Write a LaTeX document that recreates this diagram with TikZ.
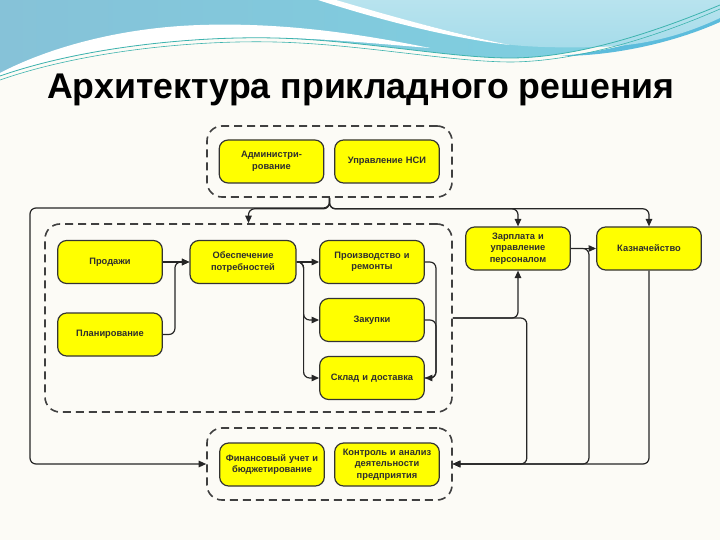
\documentclass[tikz,border=0pt]{standalone}
\usepackage{fontspec}
\setmainfont{Liberation Sans}
\usepackage{xcolor}
\usetikzlibrary{arrows.meta}
\definecolor{bgcream}{HTML}{FCFBF6}
\definecolor{waveL}{HTML}{86C2D8}
\definecolor{waveM}{HTML}{7CD2E2}
\definecolor{waveR}{HTML}{A6DCEA}
\definecolor{waveD}{HTML}{5CBCDC}
\definecolor{waveLine}{HTML}{3DB3AE}
\definecolor{boxfill}{HTML}{FFFF00}
\definecolor{boxline}{HTML}{333333}
\definecolor{grpline}{HTML}{404040}

\begin{document}
\begin{tikzpicture}[x=1pt, y=-1pt,
  block/.style={draw=boxline, line width=1.2pt, fill=boxfill, rounded corners=9pt,
    minimum width=101pt, minimum height=43pt, text width=98pt, align=center,
    font=\fontsize{9.3}{11.5}\selectfont\bfseries, text=black!82},
  group/.style={draw=grpline, line width=1.6pt, dash pattern=on 8pt off 5pt, rounded corners=15pt},
  link/.style={draw=black!85, line width=1.2pt, rounded corners=6pt},
  >={Triangle[length=7.5pt,width=6.5pt]}]
  \useasboundingbox (0,0) rectangle (720,540);
  \fill[bgcream] (0,0) rectangle (720,540);
  \shade[left color=waveL, right color=waveM] (0,0) -- (720,0) -- (720,5)
    .. controls (660,30) and (580,58) .. (510,58) .. controls (450,58) and (360,40) .. (275,38)
    .. controls (190,36) and (80,48) .. (0,76) -- cycle;
  \fill[white] (0,73) .. controls (40,52) and (110,28) .. (200,25) .. controls (290,22) and (370,36) .. (430,48)
    .. controls (380,44) and (320,38) .. (275,38) .. controls (190,36) and (80,48) .. (0,76) -- cycle;
  \fill[waveD] (560,56) .. controls (630,50) and (690,25) .. (720,10) -- (720,22)
    .. controls (680,40) and (620,56) .. (560,56) -- cycle;
  \shade[top color=waveR!80!white, bottom color=waveR] (330,0) -- (720,0) -- (720,18)
    .. controls (690,32) and (650,46) .. (597,47) .. controls (560,48) and (525,47) .. (505,44)
    .. controls (450,32) and (385,15) .. (330,0) -- cycle;
  \fill[white] (318,0) -- (336,0) .. controls (390,16) and (455,34) .. (510,45)
    .. controls (450,38) and (380,20) .. (318,0) -- cycle;
  \draw[waveLine, line width=0.8pt] (0,76) .. controls (80,48) and (190,36) .. (275,38)
    .. controls (360,40) and (450,58) .. (510,58) .. controls (580,58) and (660,30) .. (720,5);
  \draw[waveLine, line width=0.6pt] (0,80) .. controls (80,52) and (190,40) .. (275,42)
    .. controls (360,44) and (450,62) .. (512,62) .. controls (585,61) and (665,33) .. (720,9);

  \node[anchor=base west, font=\fontsize{35.7}{40}\selectfont\bfseries, inner sep=0pt] (title) at (47,99)
    {Архитектура прикладного решения};

  \node[group, minimum width=245pt, minimum height=71pt] (grpTop) at (329.5,161.5) {};
  \node[group, minimum width=407pt, minimum height=188pt] (grpMain) at (248.5,318) {};
  \node[group, minimum width=245pt, minimum height=72pt] (grpBot) at (329.5,464) {};

  \node[block] (adm) at (271.5,161.5) {Администри-\\рование};
  \node[block] (nsi) at (387,161.5) {Управление НСИ};
  \node[block] (sales) at (110,262) {Продажи};
  \node[block] (plan) at (110,334.5) {Планирование};
  \node[block, minimum width=106pt] (supply) at (243,262) {Обеспечение\\потребностей};
  \node[block] (prod) at (372,262) {Производство и\\ремонты};
  \node[block] (purch) at (372,320) {Закупки};
  \node[block] (store) at (372,378) {Склад и доставка};
  \node[block] (pay) at (518,248.5) {Зарплата и\\управление\\персоналом};
  \node[block] (treas) at (649,248.5) {Казначейство};
  \node[block] (fin) at (272,464.5) {Финансовый учет и\\бюджетирование};
  \node[block] (ctrl) at (387,464.5) {Контроль и анализ\\деятельности\\предприятия};

  \coordinate (busL) at (30,208);

  \path[link, ->] (grpTop.south) |- (busL) |- (grpBot.west);
  \path[link, ->] (grpTop.south) -- ++(0,11) -| (grpMain.north);
  \path[link, ->] (grpTop.south) -- ++(0,11) -| (pay.north);
  \path[link, ->] (grpTop.south) -- ++(0,11) -| (treas.north);

  \path[link, ->] (sales.east) -- (supply.west);
  \path[link, ->] (plan.east) -- ++(12,0) |- (supply.west);
  \path[link, ->] (supply.east) -- (prod.west);
  \path[link, ->] (supply.east) -- ++(7,0) |- (purch.west);
  \path[link, ->] (supply.east) -- ++(7,0) |- (store.west);
  \path[link, ->] (prod.east) -- ++(11,0) |- (store.east);
  \path[link] (purch.east) -- ++(11,0) |- (store.east);

  \path[link, ->] (grpMain.east) -| (pay.south);
  \path[link, ->] (grpMain.east) -- ++(74,0) |- (grpBot.east);
  \path[link, ->] (pay.east) -- (treas.west);
  \path[link, ->] (pay.east) -- ++(18,0) |- (grpBot.east);
  \path[link, ->] (treas.south) |- (grpBot.east);
\end{tikzpicture}
\end{document}
